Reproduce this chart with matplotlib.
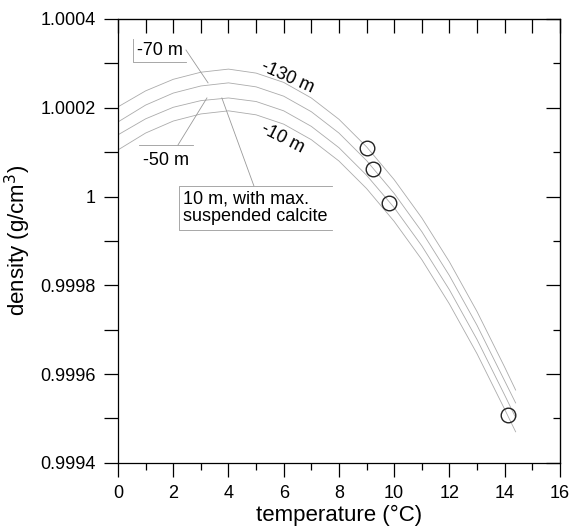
import matplotlib
matplotlib.use("Agg")
import matplotlib.pyplot as plt
from matplotlib.ticker import MultipleLocator, FixedLocator

plt.rcParams['font.family'] = ['Liberation Sans', 'DejaVu Sans']

# ---- data ----
temp = [0, 1, 2, 3, 4, 5, 6, 7, 8, 9, 10, 11, 12, 13, 14, 14.4]
dens_m130 = [1.000202, 1.000238, 1.000264, 1.000280, 1.000287, 1.000278, 1.000257, 1.000222,
             1.000174, 1.000112, 1.000038, 0.999952, 0.999853, 0.999741, 0.999616, 0.999564]
dens_m70 = [1.000168, 1.000206, 1.000233, 1.000249, 1.000256, 1.000247, 1.000226, 1.000191,
            1.000143, 1.000081, 1.000007, 0.999921, 0.999822, 0.999710, 0.999585, 0.999535]
dens_m50 = [1.000139, 1.000175, 1.000201, 1.000216, 1.000222, 1.000214, 1.000193, 1.000158,
            1.000110, 1.000048, 0.999975, 0.999889, 0.999790, 0.999678, 0.999553, 0.999502]
dens_m10 = [1.000105, 1.000143, 1.000170, 1.000186, 1.000193, 1.000184, 1.000163, 1.000128,
            1.000080, 1.000018, 0.999944, 0.999858, 0.999758, 0.999646, 0.999521, 0.999470]

obs_temp = [9.02, 9.24, 9.82, 14.13]
obs_dens = [1.000110, 1.000062, 0.999986, 0.999508]

xticks = [0, 2, 4, 6, 8, 10, 12, 14, 16]
yticks = [0.9994, 0.9996, 0.9998, 1.0, 1.0002, 1.0004]
ytick_labels = ["0.9994", "0.9996", "0.9998", "1", "1.0002", "1.0004"]

fig = plt.figure(figsize=(5.73, 5.26), dpi=100)
ax = fig.add_axes([0.206, 0.120, 0.771, 0.844])

curve_color = "#ababab"
for d in (dens_m130, dens_m70, dens_m50, dens_m10):
    ax.plot(temp, d, color=curve_color, lw=0.6)

ax.plot(obs_temp, obs_dens, linestyle="none", marker="o", markersize=10.5,
        markerfacecolor="none", markeredgecolor="#222222", markeredgewidth=1.0)

ax.set_xlim(0, 16)
ax.set_ylim(0.9994, 1.0004)
ax.set_xticks(xticks)
ax.xaxis.set_minor_locator(MultipleLocator(1))
ax.set_yticks(yticks)
ax.set_yticklabels(ytick_labels)
ax.yaxis.set_minor_locator(FixedLocator([0.9995, 0.9997, 0.9999, 1.0001, 1.0003]))

ax.tick_params(axis='x', which='major', direction='out', length=10, width=0.9,
               labelsize=13, pad=6, top=False)
ax.tick_params(axis='x', which='minor', direction='out', length=5, width=0.9, top=False)
ax.tick_params(axis='y', which='major', direction='out', length=10, width=0.9,
               labelsize=13, pad=6, right=False)
ax.tick_params(axis='y', which='minor', direction='out', length=10, width=0.9, right=False)

secx = ax.secondary_xaxis('top')
secx.set_xticks(list(range(0, 17)))
secx.tick_params(direction='in', length=10, width=0.9, labeltop=False)
secy = ax.secondary_yaxis('right')
secy.set_yticks(yticks)
secy.yaxis.set_minor_locator(FixedLocator([0.9995, 0.9997, 0.9999, 1.0001, 1.0003]))
secy.tick_params(which='major', direction='in', length=10, width=0.9, labelright=False)
secy.tick_params(which='minor', direction='in', length=5, width=0.9)

for s in ax.spines.values():
    s.set_linewidth(0.9)

ax.set_xlabel("temperature (°C)", fontsize=16, labelpad=2)
ax.set_ylabel("density (g/cm$^3$)", fontsize=16, labelpad=5)

lc = "#999999"
# -70 m label
ax.plot([0.54, 0.54, 2.46], [1.000355, 1.000303, 1.000303], color=lc, lw=0.6)
ax.text(0.69, 1.000328, "-70 m", fontsize=13, va='center', ha='left')
ax.plot([2.46, 3.26], [1.000330, 1.000256], color=lc, lw=0.6)

# -50 m label
ax.plot([0.76, 2.71], [1.000116, 1.000116], color=lc, lw=0.6)
ax.text(0.90, 1.000082, "-50 m", fontsize=13, va='center', ha='left')
ax.plot([2.17, 3.22], [1.000116, 1.000222], color=lc, lw=0.6)

# 10 m label
ax.plot([7.75, 2.21, 2.21, 7.75], [1.000024, 1.000024, 0.999925, 0.999925], color=lc, lw=0.6)
ax.text(2.35, 0.999974, "10 m, with max.\nsuspended calcite", fontsize=13,
        va='center', ha='left', linespacing=1.05)
ax.plot([4.92, 3.76], [1.000024, 1.000222], color=lc, lw=0.6)

ax.text(6.15, 1.000269, "-130 m", fontsize=13, rotation=-24, ha='center', va='center',
        rotation_mode='anchor')
ax.text(5.97, 1.000130, "-10 m", fontsize=13, rotation=-27, ha='center', va='center',
        rotation_mode='anchor')

fig.savefig("out.png", dpi=100)
